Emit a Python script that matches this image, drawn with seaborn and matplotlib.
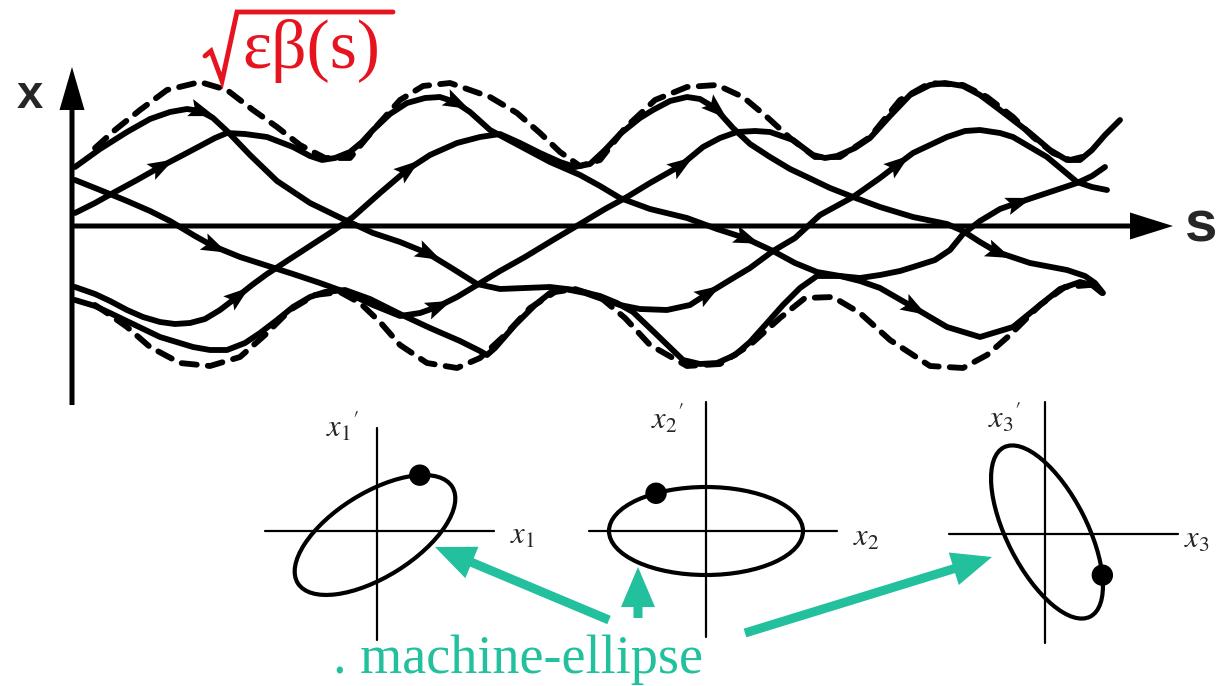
import numpy as np
import pandas as pd
import matplotlib
matplotlib.use("Agg")
import matplotlib.pyplot as plt
from matplotlib.patches import Ellipse, Circle
import seaborn as sns

# ---------------- data (sketch coordinates: s to the right, x measured downward in pixels) ----
A_s = [75,100,127,150,170,187,200,213,227,250,277,310,345,373,400,427,450,477,500,525,
       550,575,600,617,633,655,683,700,717,735,750,767,783,800,817,840,860,880,913,947,
       980,1013,1040,1060,1080,1092,1102]
A_x = [167,149,132,119,112,109,111,118,131,155,181,203,220,233,242,253,267,284,289,288,
       287,290,296,303,312,333,360,364,363,355,342,323,305,288,276,276,281,288,307,327,
       337,327,305,289,282,285,293]

B_s = [75,100,127,150,170,195,213,240,265,293,320,345,373,400,420,437,457,477,500,525,
       553,580,605,627,650,680,703,720,737,755,770,793,813,825,837,855,870,890,910,930,
       945,963,980,1000,1030,1050,1067,1080,1092,1105,1120]
B_x = [180,190,201,211,221,236,246,257,265,274,283,292,305,316,313,307,297,285,271,257,
       240,224,209,197,183,166,147,138,132,131,132,140,155,158,156,148,138,116,95,85,
       83,86,95,110,133,150,160,160,150,135,120]

C_s = [75,95,113,137,160,183,200,215,227,245,267,293,310,322,335,350,362,373,390,407,
       425,440,455,470,490,520,550,580,600,620,650,687,717,745,773,795,817,840,860,880,
       900,913,935,950,963,980,1000,1017,1047,1077,1092,1105]
C_x = [213,203,193,180,167,155,146,138,133,134,137,147,156,160,158,152,142,130,114,103,
       98,97,102,112,130,146,162,175,186,198,209,218,229,238,251,263,272,276,278,275,
       271,267,260,250,234,221,209,203,193,183,176,167]

D_s = [75,95,110,127,143,160,175,190,205,220,237,252,267,293,313,333,353,380,407,430,
       457,480,500,520,540,560,575,590,605,620,640,653,670,687,700,715,733,750,770,790,
       807,830,853,880,913,947,963,980,997,1030,1067,1085,1095,1103]
D_x = [287,294,301,310,317,322,324,323,319,310,297,285,274,257,244,231,217,193,170,155,
       143,137,134,143,153,162,167,164,150,134,118,110,101,97,99,108,128,144,157,169,
       177,188,197,207,217,224,231,242,252,263,270,276,283,293]

E_s = [75,95,110,135,160,193,210,227,245,260,277,293,310,325,345,370,400,430,460,480,
       487,495,515,535,550,565,585,605,620,640,667,690,707,730,750,773,795,820,853,880,
       897,913,947,965,980,1000,1013,1047,1077,1092,1107]
E_x = [300,306,313,325,337,347,350,350,343,333,320,307,297,292,290,299,314,328,341,351,
       355,348,325,305,293,289,293,300,305,309,310,305,294,280,268,251,238,215,197,178,
       165,153,137,131,130,133,137,157,182,187,190]

env_up_s = [95,115,140,167,200,227,253,277,300,325,350,375,400,423,450,490,517,540,560,580,
            600,625,655,687,717,743,767,790,815,840,870,900,930,963,987,1013,1033,1053,1070,1090]
env_up_x = [148,130,110,90,82,90,110,127,145,158,158,128,100,86,83,97,113,133,152,166,
            160,128,100,87,85,97,117,138,157,157,137,100,83,85,97,117,137,153,160,155]
env_low_s = [95,110,127,150,180,210,240,265,290,315,340,360,380,400,427,457,480,505,530,555,
             575,600,625,650,687,720,750,780,805,833,860,890,930,963,987,1010,1040,1065,1090]
env_low_x = [305,315,327,347,363,366,357,335,310,295,292,303,322,345,363,368,358,335,308,292,
             289,297,318,345,366,364,345,318,298,297,313,340,366,368,355,335,305,287,285]

arrow_traj = ["A","A","A","B","B","B","C","C","C","C","D","D","D","D","E","E"]
arrow_s = [200,427,913,213,437,680,160,455,745,1017,237,407,715,997,707,897]

# phase-space panels
ph_labels_prime = [r"$x_1{}^{\prime}$", r"$x_2{}^{\prime}$", r"$x_3{}^{\prime}$"]
ph_labels = [r"$x_1$", r"$x_2$", r"$x_3$"]
ell_cx = [375, 706, 1047]
ell_cy = [535, 531, 532]
ell_a = [91, 97, 95]
ell_b = [42, 44, 40]
ell_angle = [-32, 0, 63]
dot_t = [-40, -121, -48]

label_text = ". machine-ellipse"
red_label = "εβ(s)"

# ---------------- figure ----------------
sns.set_theme(style="white")
plt.rcParams["font.family"] = ["DejaVu Sans"]
plt.rcParams["mathtext.fontset"] = "stix"

fig = plt.figure(figsize=(12.19, 6.86), dpi=100)
ax = fig.add_axes([0, 0, 1, 1])

BLACK = "black"
RED = "#e6141e"
TEAL = "#22c09c"
LW = 4.2

traj = {"A": (A_s, A_x), "B": (B_s, B_x), "C": (C_s, C_x), "D": (D_s, D_x), "E": (E_s, E_x)}
traj_df = pd.concat([pd.DataFrame({"s": v[0], "x": v[1], "traj": k}) for k, v in traj.items()],
                    ignore_index=True)
env_df = pd.concat([pd.DataFrame({"s": env_up_s, "x": env_up_x, "side": "up"}),
                    pd.DataFrame({"s": env_low_s, "x": env_low_x, "side": "low"})],
                   ignore_index=True)

sns.lineplot(data=traj_df, x="s", y="x", units="traj", estimator=None, sort=False,
             color=BLACK, lw=LW, solid_capstyle="round", solid_joinstyle="round",
             legend=False, ax=ax)
sns.lineplot(data=env_df, x="s", y="x", units="side", estimator=None, sort=False,
             color=BLACK, lw=LW, linestyle=(0, (2.6, 1.9)), dash_capstyle="round",
             legend=False, ax=ax)

# arrowheads along trajectories
HL, HW = 26, 9
for name, s0 in zip(arrow_traj, arrow_s):
    ss, xx = traj[name]
    i = int(np.argmin(np.abs(np.array(ss) - s0)))
    p0 = np.array([ss[i - 1], xx[i - 1]], float)
    p1 = np.array([ss[i + 1], xx[i + 1]], float)
    u = (p1 - p0) / np.linalg.norm(p1 - p0)
    n = np.array([-u[1], u[0]])
    c = np.array([ss[i], xx[i]], float)
    tip = c + u * HL * 0.6
    base = c - u * HL * 0.4
    poly = np.array([tip, base + n * HW, base + u * 5, base - n * HW])
    ax.fill(poly[:, 0], poly[:, 1], color=BLACK, lw=0, zorder=5)

# main axes with arrows
ax.arrow(72, 405, 0, 67 - 405, width=5, head_width=25, head_length=43,
         length_includes_head=True, color=BLACK, lw=0, zorder=4)
ax.arrow(70, 226, 1173 - 70, 0, width=5, head_width=27, head_length=43,
         length_includes_head=True, color=BLACK, lw=0, zorder=4)
ax.text(30, 96, "x", fontsize=34, fontweight="bold", family="Liberation Sans",
        ha="center", va="center")
ax.text(1217, 226, "s", fontsize=42, fontweight="bold", family="Liberation Sans",
        ha="right", va="center")

# red label with radical sign
ax.plot([205, 211, 222, 237, 393], [56, 51, 81, 12, 12], color=RED, lw=3.5,
        solid_joinstyle="miter")
ax.text(242, 68, red_label, fontsize=50, family="Liberation Serif", color=RED,
        ha="left", va="baseline")

# phase-space panels
axis_cx = [377, 706, 1045]
axis_cy = [531, 531, 534]
v_top = [428, 402, 402]
v_bot = [640, 637, 643]
h_left = [265, 589, 949]
h_right = [494, 837, 1178]
prime_pos = [(343, 426), (668, 418), (1005, 417)]
xlab_pos = [(510, 536), (853, 537), (1184, 540)]
for k in range(3):
    ax.plot([axis_cx[k], axis_cx[k]], [v_top[k], v_bot[k]], color=BLACK, lw=1.6)
    ax.plot([h_left[k], h_right[k]], [axis_cy[k], axis_cy[k]], color=BLACK, lw=1.6)
    ax.add_patch(Ellipse((ell_cx[k], ell_cy[k]), 2 * ell_a[k], 2 * ell_b[k],
                         angle=ell_angle[k], fill=False, ec=BLACK, lw=3.0))
    th = np.deg2rad(ell_angle[k])
    t = np.deg2rad(dot_t[k])
    ex, ey = ell_a[k] * np.cos(t), ell_b[k] * np.sin(t)
    dx = ex * np.cos(th) - ey * np.sin(th)
    dy = ex * np.sin(th) + ey * np.cos(th)
    ax.add_patch(Circle((ell_cx[k] + dx, ell_cy[k] + dy), 10, color=BLACK, zorder=6))
    ax.text(*prime_pos[k], ph_labels_prime[k], fontsize=22, ha="center", va="center")
    ax.text(*xlab_pos[k], ph_labels[k], fontsize=22, ha="left", va="center")

# teal arrows and caption
tail_x = [609, 638, 745]
tail_y = [620, 618, 633]
tip_x = [435, 638, 992]
tip_y = [547, 567, 557]
for tx, ty, hx, hy in zip(tail_x, tail_y, tip_x, tip_y):
    ax.arrow(tx, ty, hx - tx, hy - ty, width=9, head_width=34, head_length=40,
             length_includes_head=True, color=TEAL, lw=0, zorder=7)
ax.text(333, 673, label_text, fontsize=39, family="Liberation Serif", color=TEAL,
        ha="left", va="baseline")

ax.set_xlim(0, 1219)
ax.set_ylim(686, 0)
ax.axis("off")
fig.savefig("out.png", dpi=100)
